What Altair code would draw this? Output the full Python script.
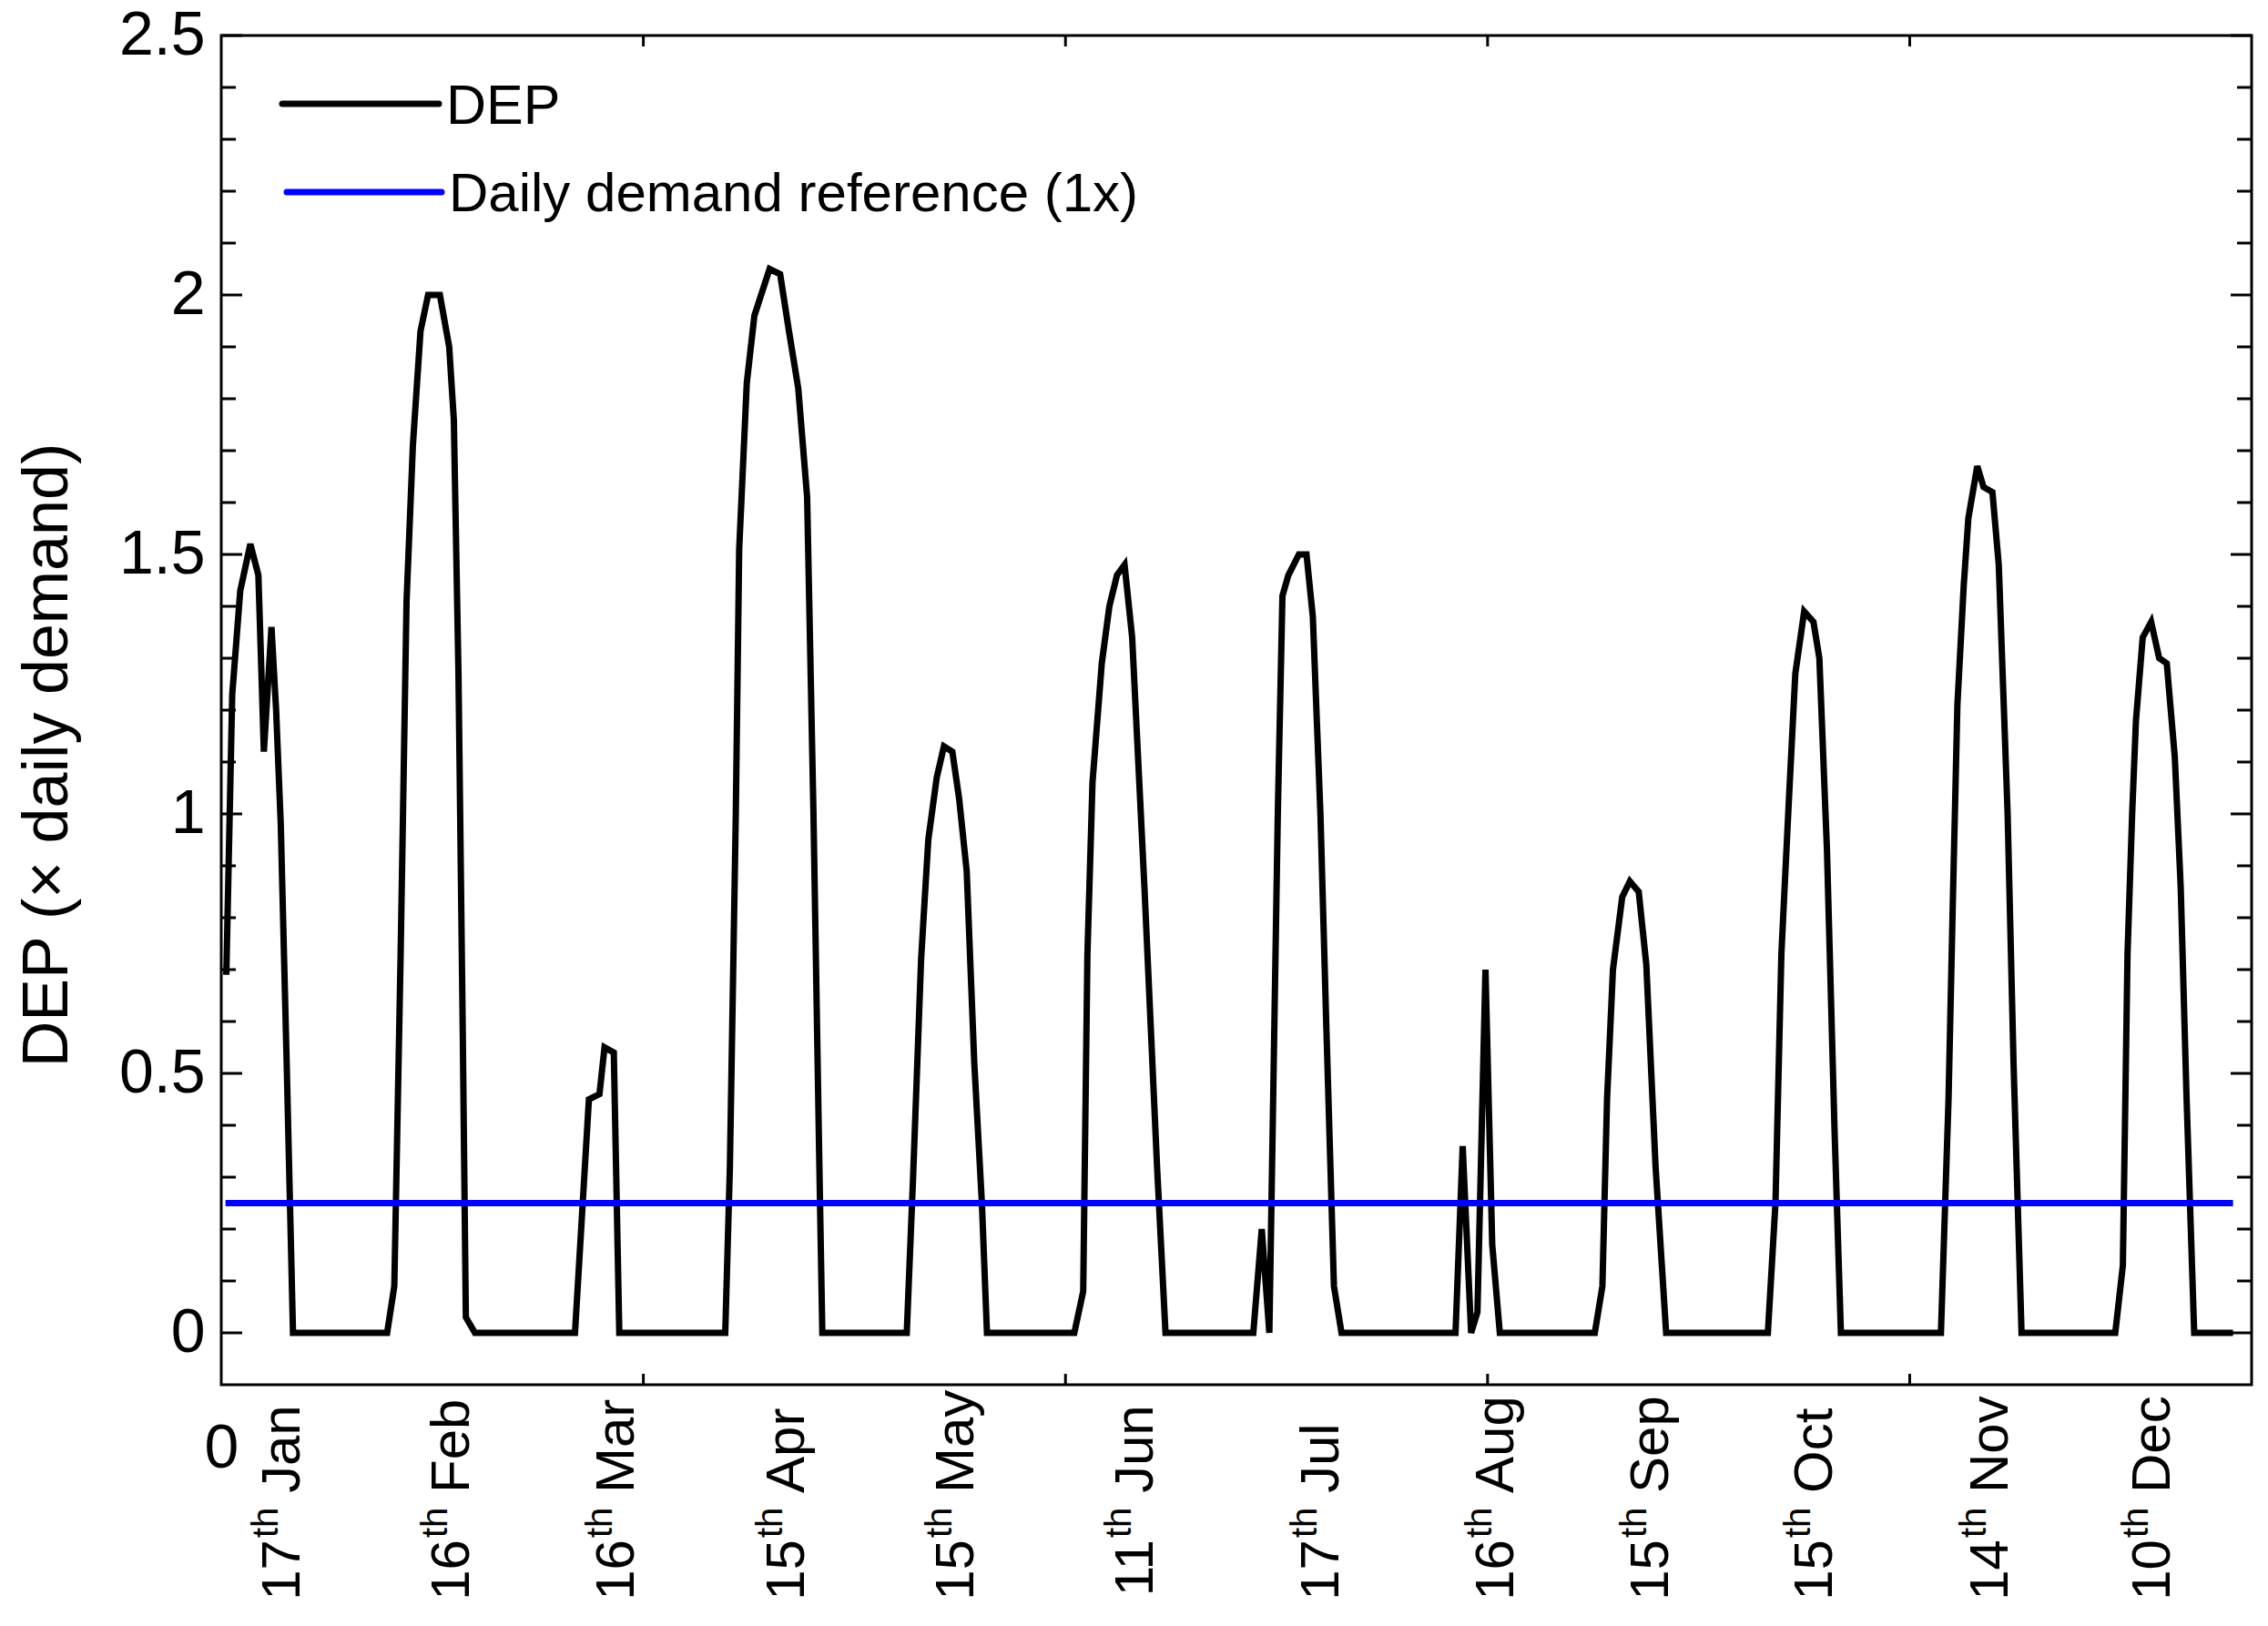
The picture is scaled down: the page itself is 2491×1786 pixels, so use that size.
import altair as alt
import pandas as pd

# ---------------- data ----------------
dep_x = [1.2, 2.6, 4.5, 6.9, 8.8, 10.1, 11.9, 13.0, 14.1, 15.5, 17.0,
         39.3, 41.0, 42.5, 43.9, 45.4, 47.2, 49.0, 51.8, 54.0, 55.1, 56.2, 57.2, 57.95, 60.1,
         83.8, 87.1, 89.6, 90.8, 93.0, 94.3,
         119.4, 120.5, 121.9, 122.7, 124.5, 126.3, 129.9, 132.4, 134.5, 136.7, 138.8, 140.3, 141.7, 142.4,
         162.4, 163.9, 165.8, 167.5, 169.5, 171.2, 173.2, 174.8, 176.6, 178.4, 180.2, 181.4,
         202.1, 204.2, 205.2, 206.4, 208.6, 210.4, 212.2, 214.0, 215.8, 218.7, 221.7, 223.7,
         244.5, 246.5, 248.3, 249.2, 250.3, 251.4, 252.8, 255.3, 257.1, 258.6, 260.4, 261.8, 263.6, 265.4,
         292.4, 294.1, 296.1, 297.6, 299.5, 301.1, 302.9,
         325.4, 327.2, 328.3, 329.7, 331.9, 333.7, 335.8, 337.6, 339.8, 342.3,
         366.4, 368.2, 369.6, 371.4, 372.9, 375.0, 377.2, 378.6, 380.4, 382.2, 383.7,
         407.4, 409.2, 410.3, 411.3, 412.8, 413.9, 416.0, 417.5, 419.6, 421.1, 423.2, 424.6, 426.5,
         448.7, 450.5, 451.6, 452.7, 453.6, 455.2, 457.2, 459.1, 460.9, 462.8, 464.2, 465.6, 467.4, 476.6]
dep_v = [0.69, 1.23, 1.43, 1.52, 1.46, 1.12, 1.36, 1.20, 0.98, 0.52, 0.0,
         0.0, 0.09, 0.73, 1.41, 1.71, 1.93, 2.0, 2.0, 1.90, 1.76, 1.27, 0.59, 0.03, 0.0,
         0.0, 0.45, 0.46, 0.55, 0.54, 0.0,
         0.0, 0.32, 1.0, 1.51, 1.83, 1.96, 2.05, 2.04, 1.93, 1.82, 1.61, 1.0, 0.32, 0.0,
         0.0, 0.3, 0.72, 0.95, 1.07, 1.13, 1.12, 1.03, 0.89, 0.52, 0.25, 0.0,
         0.0, 0.08, 0.73, 1.06, 1.29, 1.40, 1.46, 1.48, 1.34, 0.86, 0.32, 0.0,
         0.0, 0.2, 0.0, 0.45, 1.0, 1.42, 1.46, 1.50, 1.50, 1.38, 1.0, 0.59, 0.09, 0.0,
         0.0, 0.36, 0.0, 0.04, 0.70, 0.17, 0.0,
         0.0, 0.09, 0.45, 0.70, 0.84, 0.87, 0.85, 0.71, 0.32, 0.0,
         0.0, 0.25, 0.73, 1.03, 1.27, 1.39, 1.37, 1.30, 0.93, 0.39, 0.0,
         0.0, 0.45, 0.86, 1.21, 1.44, 1.57, 1.67, 1.63, 1.62, 1.48, 1.0, 0.52, 0.0,
         0.0, 0.13, 0.73, 1.0, 1.18, 1.34, 1.37, 1.30, 1.29, 1.11, 0.86, 0.45, 0.0, 0.0]

ref_x = [1.0, 476.6]
ref_v = [0.25, 0.25]

y_major = [0, 0.5, 1, 1.5, 2, 2.5]
y_minor = [0.1, 0.2, 0.3, 0.4, 0.6, 0.7, 0.8, 0.9, 1.1, 1.2, 1.3, 1.4,
           1.6, 1.7, 1.8, 1.9, 2.1, 2.2, 2.3, 2.4]
x_ticks = [100, 200, 300, 400]
x_labels = [0]

month_day = ["17", "16", "16", "15", "15", "11", "17", "16", "15", "15", "14", "10"]
month_name = ["Jan", "Feb", "Mar", "Apr", "May", "Jun", "Jul", "Aug", "Sep", "Oct", "Nov", "Dec"]
month_x = [14, 54, 93, 133.5, 173.5, 216, 260, 301.5, 338, 377, 418.5, 457]

legend_labels = ["DEP", "Daily demand reference (1x)"]

# ---------------- layout ----------------
W, H = 2230, 1482
FONT = "Liberation Sans"

xs = alt.Scale(domain=[0, 481], nice=False, zero=False)
ys = alt.Scale(domain=[-0.1, 2.5], nice=False, zero=False)

x_axis = alt.Axis(values=x_labels, format="~g", labelFontSize=68, labelFont=FONT,
                  labelColor="black", domain=False, ticks=False, tickSize=0,
                  labelPadding=36, grid=False, title=None, labelFlush=False)
y_axis = alt.Axis(values=y_major, format="~g", labelFontSize=68, labelFont=FONT,
                  labelColor="black", domain=False, ticks=False, tickSize=0,
                  labelPadding=18, grid=False, title="DEP (× daily demand)",
                  titleFontSize=70, titleFont=FONT, titleFontWeight="normal",
                  titleColor="black", titleAngle=270, titleX=-170, titleY=790,
                  titleAlign="center", titleBaseline="alphabetic")

X = lambda f: alt.X(f, scale=xs, axis=x_axis)
Y = lambda f: alt.Y(f, scale=ys, axis=y_axis)

df_dep = pd.DataFrame({"x": dep_x, "v": dep_v})
df_ref = pd.DataFrame({"x": ref_x, "v": ref_v})
df_major = pd.DataFrame({"t": y_major})
df_minor = pd.DataFrame({"t": y_minor})
df_xt = pd.DataFrame({"t": x_ticks})
df_m = pd.DataFrame({"x": month_x, "day": month_day, "name": month_name,
                     "th": ["th"] * len(month_x)})

dep = alt.Chart(df_dep).mark_line(color="black", strokeWidth=7).encode(
    x=X("x:Q"), y=Y("v:Q"))
ref = alt.Chart(df_ref).mark_line(color="#0000ff", strokeWidth=7).encode(
    x=X("x:Q"), y=Y("v:Q"))

tick_style = dict(color="black", strokeWidth=3)
lmaj = alt.Chart(df_major).mark_rule(**tick_style).encode(
    y=Y("t:Q"), x=alt.value(0), x2=alt.value(23))
rmaj = alt.Chart(df_major).mark_rule(**tick_style).encode(
    y=Y("t:Q"), x=alt.value(W - 23), x2=alt.value(W))
lmin = alt.Chart(df_minor).mark_rule(**tick_style).encode(
    y=Y("t:Q"), x=alt.value(0), x2=alt.value(16))
rmin = alt.Chart(df_minor).mark_rule(**tick_style).encode(
    y=Y("t:Q"), x=alt.value(W - 16), x2=alt.value(W))
bxt = alt.Chart(df_xt).mark_rule(**tick_style).encode(
    x=X("t:Q"), y=alt.value(H), y2=alt.value(H - 12))
txt = alt.Chart(df_xt).mark_rule(**tick_style).encode(
    x=X("t:Q"), y=alt.value(0), y2=alt.value(12))

J = 1652
num = alt.Chart(df_m).mark_text(angle=270, align="right", baseline="alphabetic",
                                fontSize=60, font=FONT, color="black", dy=21.5).encode(
    x=X("x:Q"), y=alt.value(J), text="day:N")
sup = alt.Chart(df_m).mark_text(angle=270, align="left", baseline="alphabetic",
                                fontSize=40, font=FONT, color="black", dy=-2.5).encode(
    x=X("x:Q"), y=alt.value(J - 2), text="th:N")
name = alt.Chart(df_m).mark_text(angle=270, align="left", baseline="alphabetic",
                                 fontSize=60, font=FONT, color="black", dy=21.5).encode(
    x=X("x:Q"), y=alt.value(J - 51), text="name:N")

df_l1 = pd.DataFrame({"label": [legend_labels[0]]})
df_l2 = pd.DataFrame({"label": [legend_labels[1]]})
leg1 = alt.Chart(df_l1).mark_rule(color="black", strokeWidth=7, strokeCap="round").encode(
    x=alt.value(67), x2=alt.value(239), y=alt.value(75))
legt1 = alt.Chart(df_l1).mark_text(align="left", baseline="alphabetic", fontSize=61,
                                   font=FONT, color="black").encode(
    x=alt.value(247), y=alt.value(97), text="label:N")
leg2 = alt.Chart(df_l2).mark_rule(color="#0000ff", strokeWidth=7, strokeCap="round").encode(
    x=alt.value(72), x2=alt.value(242), y=alt.value(172))
legt2 = alt.Chart(df_l2).mark_text(align="left", baseline="alphabetic", fontSize=60,
                                   font=FONT, color="black").encode(
    x=alt.value(250), y=alt.value(193), text="label:N")

chart = alt.layer(
    dep, ref, lmaj, rmaj, lmin, rmin, bxt, txt, num, sup, name, leg1, legt1, leg2, legt2
).properties(
    width=W, height=H,
    autosize=alt.AutoSizeParams(type="none"),
    padding={"left": 235, "top": 31, "right": 10, "bottom": 257},
).configure_view(stroke="black", strokeWidth=3)

chart.save("out.html", embed_options={"renderer": "svg", "actions": False})
